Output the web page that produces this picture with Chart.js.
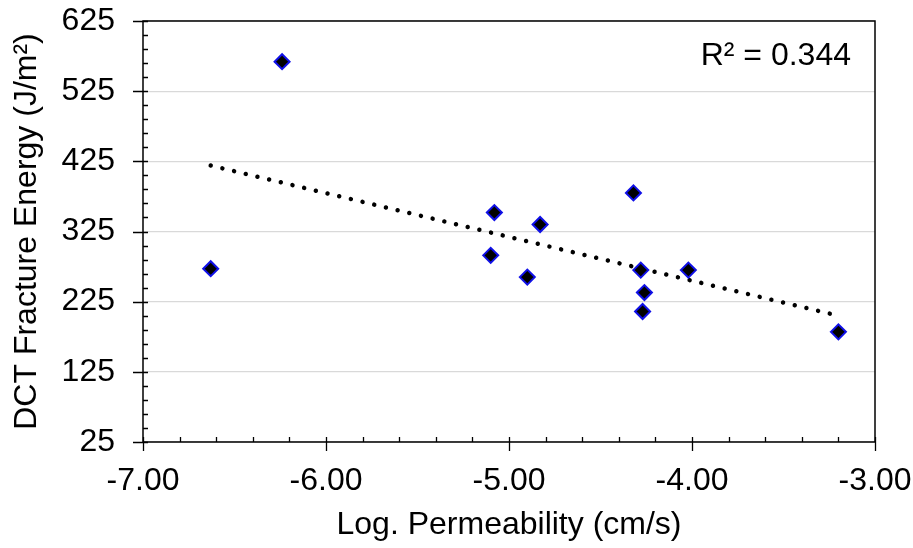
<!DOCTYPE html>
<html>
<head>
<meta charset="utf-8">
<script src="https://cdn.jsdelivr.net/npm/chart.js@4.4.1/dist/chart.umd.min.js"></script>
<style>
  html, body { margin: 0; padding: 0; background: #fff; }
  #wrap { width: 913px; height: 548px; }
</style>
</head>
<body>
<div id="wrap"><canvas id="chart" width="913" height="548"></canvas></div>
<script>
// measured samples
const permeability = [-6.63, -6.24, -5.08, -5.10, -4.90, -4.83, -4.32, -4.28, -4.26, -4.27, -4.02, -3.20];
const fractureEnergy = [272, 567, 352, 291, 260, 335, 380, 270, 238, 211, 270, 182];

// linear trend (ends)
const trendX = [-6.63, -3.20];
const trendY = [419, 205];
const rSquared = 0.344;

const xTicks = [-7, -6, -5, -4, -3];
const yTicks = [25, 125, 225, 325, 425, 525, 625];

const FONT = "'Liberation Sans', Arial, sans-serif";

// plot frame + Excel style tick marks
const frame = {
  id: "frame",
  afterDraw(chart) {
    const { ctx, chartArea: a, scales } = chart;
    ctx.save();
    ctx.strokeStyle = "#000";
    ctx.lineWidth = 1.5;
    ctx.strokeRect(a.left, a.top, a.right - a.left, a.bottom - a.top);

    ctx.lineWidth = 1.3;
    ctx.beginPath();
    // y ticks
    for (let v = 25; v <= 625 + 1e-6; v += 20) {
      const y = Math.round(scales.y.getPixelForValue(v)) + 0.5;
      const major = yTicks.includes(v);
      ctx.moveTo(a.left - (major ? 10 : 0), y);
      ctx.lineTo(a.left + 5, y);
    }
    // x ticks
    for (let i = 0; i <= 20; i++) {
      const v = -7 + i * 0.2;
      const x = Math.round(scales.x.getPixelForValue(v)) + 0.5;
      const major = i % 5 === 0;
      ctx.moveTo(x, a.bottom - 5);
      ctx.lineTo(x, a.bottom + (major ? 9 : 0));
    }
    ctx.stroke();

    // R² label
    ctx.fillStyle = "#000";
    ctx.font = "32px " + FONT;
    ctx.textAlign = "right";
    ctx.textBaseline = "middle";
    ctx.fillText("R\u00b2 = " + rSquared.toFixed(3), 851, 56);
    ctx.restore();
  },
};

new Chart(document.getElementById("chart"), {
  type: "scatter",
  data: {
    datasets: [
      {
        label: "Data",
        data: permeability.map((x, i) => ({ x, y: fractureEnergy[i] })),
        pointStyle: "rectRot",
        pointRadius: 7.5,
        pointBackgroundColor: "#000",
        pointBorderColor: "#1010e8",
        pointBorderWidth: 2,
        order: 1,
      },
      {
        label: "Trend",
        data: trendX.map((x, i) => ({ x, y: trendY[i] })),
        showLine: true,
        pointRadius: 0,
        borderColor: "#000",
        borderWidth: 4.5,
        borderDash: [0.01, 12],
        borderCapStyle: "round",
        order: 2,
      },
    ],
  },
  options: {
    responsive: false,
    animation: false,
    devicePixelRatio: 1,
    layout: { padding: 0 },
    plugins: {
      legend: { display: false },
      tooltip: { enabled: false },
    },
    scales: {
      x: {
        type: "linear",
        min: -7,
        max: -3,
        afterBuildTicks: (s) => { s.ticks = xTicks.map((v) => ({ value: v })); },
        afterFit: (s) => {
          s.height = 106;
          s.paddingLeft = 0;
          s.paddingRight = 38;
        },
        grid: { display: false, drawTicks: false },
        border: { display: false },
        ticks: {
          padding: 20,
          color: "#000",
          font: { family: FONT, size: 32 },
          maxRotation: 0,
          callback: (v) => Number(v).toFixed(2),
        },
        title: {
          display: true,
          text: "Log. Permeability (cm/s)",
          color: "#000",
          font: { family: FONT, size: 32 },
          padding: { top: 0, bottom: 4 },
        },
      },
      y: {
        type: "linear",
        min: 25,
        max: 625,
        afterBuildTicks: (s) => { s.ticks = yTicks.map((v) => ({ value: v })); },
        afterFit: (s) => {
          s.width = 143;
          s.paddingTop = 21;
          s.paddingBottom = 0;
        },
        grid: { color: "#d9d9d9", lineWidth: 1.2, drawTicks: false },
        border: { display: false },
        ticks: {
          padding: 28,
          color: "#000",
          font: { family: FONT, size: 32 },
        },
        title: {
          display: true,
          text: "DCT Fracture Energy (J/m\u00b2)",
          color: "#000",
          font: { family: FONT, size: 32 },
          padding: { top: 8, bottom: 0 },
        },
      },
    },
  },
  plugins: [frame],
});
</script>
</body>
</html>
